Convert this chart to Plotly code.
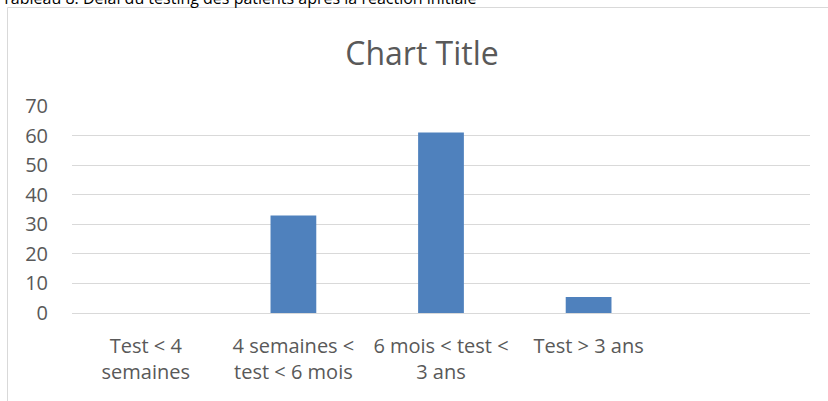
import plotly.graph_objects as go

categories = ["Test &lt; 4<br>semaines", "4 semaines &lt;<br>test &lt; 6 mois",
              "6 mois &lt; test &lt;<br>3 ans", "Test &gt; 3 ans"]
values = [0, 33, 61, 5.4]
y_ticks = [0, 10, 20, 30, 40, 50, 60, 70]

W, H = 828, 401
L, R, T, B = 72, 18, 106, 88
pw, ph = W - L - R, H - T - B

def px(x):
    return (x - L) / pw

def py(y):
    return (H - B - y) / ph

fig = go.Figure()
fig.add_trace(go.Bar(
    x=list(range(len(categories))), y=values, width=0.31,
    marker=dict(color="#4F81BD", line=dict(width=0)),
    hoverinfo="y",
))

fig.update_layout(
    width=W, height=H,
    margin=dict(l=L, r=R, t=T, b=B, autoexpand=False),
    paper_bgcolor="white", plot_bgcolor="white",
    showlegend=False,
    font=dict(family="Open Sans", color="#595959"),
    title=dict(text="Chart Title", x=422 / W, xanchor="center",
               y=1 - 54 / H, yanchor="middle",
               font=dict(size=32, color="#595959", family="Open Sans")),
    xaxis=dict(range=[-0.5, 4.5], tickvals=list(range(len(categories))),
               ticktext=categories, showgrid=False, zeroline=False,
               showline=False, ticks="", tickfont=dict(size=20, color="#595959"),
               ticklabelstandoff=19),
    yaxis=dict(range=[0, 70], tickvals=y_ticks, showgrid=True,
               gridcolor="#D9D9D9", gridwidth=1, zeroline=True,
               zerolinecolor="#D9D9D9", zerolinewidth=1, showline=False,
               ticks="", tickfont=dict(size=20, color="#595959"),
               ticklabelstandoff=23),
    shapes=[dict(type="rect", xref="paper", yref="paper",
                 x0=px(7.5), x1=px(840), y0=py(420), y1=py(7.5),
                 line=dict(color="#D9D9D9", width=1), fillcolor="rgba(0,0,0,0)",
                 layer="below")],
    annotations=[dict(text="Tableau 8: Délai du testing des patients après la réaction initiale",
                      xref="paper", yref="paper", x=px(0), y=py(11),
                      xanchor="left", yanchor="bottom", showarrow=False,
                      font=dict(size=16, color="black", family="Open Sans"))],
)

fig.write_html("out.html", config={"displayModeBar": False},
               post_script="document.body.style.margin='0';document.body.style.padding='0';")
